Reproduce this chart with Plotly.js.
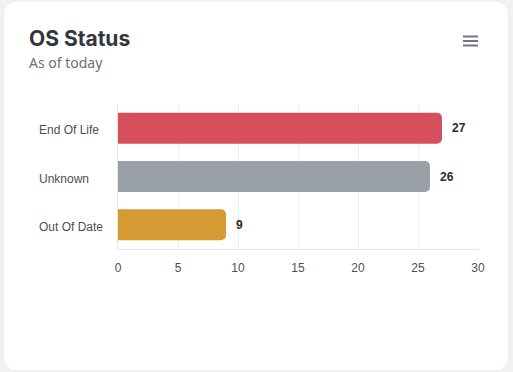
<!DOCTYPE html>
<html><head><meta charset="utf-8">
<script src="https://cdn.plot.ly/plotly-3.0.1.min.js"></script>
<style>
html,body{margin:0;padding:0;background:#f2f2f3;width:513px;height:372px;overflow:hidden}
#card{position:absolute;left:4px;top:2px;width:504px;height:368px;background:#fff;border-radius:12px;overflow:hidden;box-shadow:0 0 1px rgba(0,0,0,0.08)}
#chart{width:504px;height:368px}
</style></head>
<body><div id="card"><div id="chart"></div></div>
<script>
const categories = ["End Of Life", "Unknown", "Out Of Date"];
const counts = [27, 26, 9];
const barColors = ["#d6505b", "#9aa0a8", "#d69a33"];
const xTicks = [0, 5, 10, 15, 20, 25, 30];

const trace = {
  type: "bar",
  orientation: "h",
  y: categories,
  x: counts,
  marker: {color: barColors, cornerradius: 5, line: {width: 0}},
  hoverinfo: "none"
};

const labelFont = {family: "Liberation Sans, Arial, sans-serif", size: 12, color: "#4b4f56"};

const annotations = categories.map((c, i) => ({
  x: counts[i], y: c, xref: "x", yref: "y",
  text: "<b>" + counts[i] + "</b>", showarrow: false,
  xanchor: "left", xshift: 8,
  font: {family: "Liberation Sans, Arial, sans-serif", size: 12, color: "#2b2b2b"}
}));
categories.forEach(c => annotations.push({
  xref: "paper", yref: "y", x: (37 - 4 - 114) / 360, y: c,
  xanchor: "left", yanchor: "middle", yshift: -2, showarrow: false,
  text: c, font: labelFont
}));
annotations.push({
  xref: "paper", yref: "paper", x: (23 - 114) / 360, y: 1 + (103 - 62) / 144,
  xanchor: "left", yanchor: "middle", showarrow: false,
  text: "As of today",
  font: {family: "Noto Sans, sans-serif", size: 14, color: "#6b7079"}
});

const hamburger = [37, 41.5, 46].map(y => ({
  type: "line", xref: "paper", yref: "paper",
  x0: (463 - 4 - 114) / 360, x1: (478 - 4 - 114) / 360,
  y0: 1 - (y - 2 - 102) / 144, y1: 1 - (y - 2 - 102) / 144,
  line: {color: "#6f7787", width: 2}
}));

const layout = {
  width: 504, height: 368,
  margin: {l: 114, r: 30, t: 102, b: 121},
  paper_bgcolor: "#ffffff", plot_bgcolor: "#ffffff",
  showlegend: false,
  bargap: 0.36,
  title: {
    text: "<b>OS Status</b>",
    xref: "container", yref: "container",
    x: 25/504, xanchor: "left",
    y: 1 - 37/368, yanchor: "middle",
    font: {family: "Inter, Open Sans, sans-serif", size: 21, color: "#33363b"}
  },
  xaxis: {
    range: [0, 30], tickvals: xTicks, ticktext: xTicks.map(String),
    showgrid: true, gridcolor: "#eeeff1", gridwidth: 1,
    zeroline: false, showline: true, linecolor: "#e3e5e8",
    ticks: "", ticklabelstandoff: 8,
    tickfont: labelFont,
    fixedrange: true
  },
  yaxis: {
    autorange: "reversed", showticklabels: false,
    showgrid: false, zeroline: false, showline: true, linecolor: "#e3e5e8",
    ticks: "",
    fixedrange: true
  },
  annotations: annotations,
  shapes: hamburger
};

Plotly.newPlot("chart", [trace], layout, {displayModeBar: false, staticPlot: true});
</script></body></html>
